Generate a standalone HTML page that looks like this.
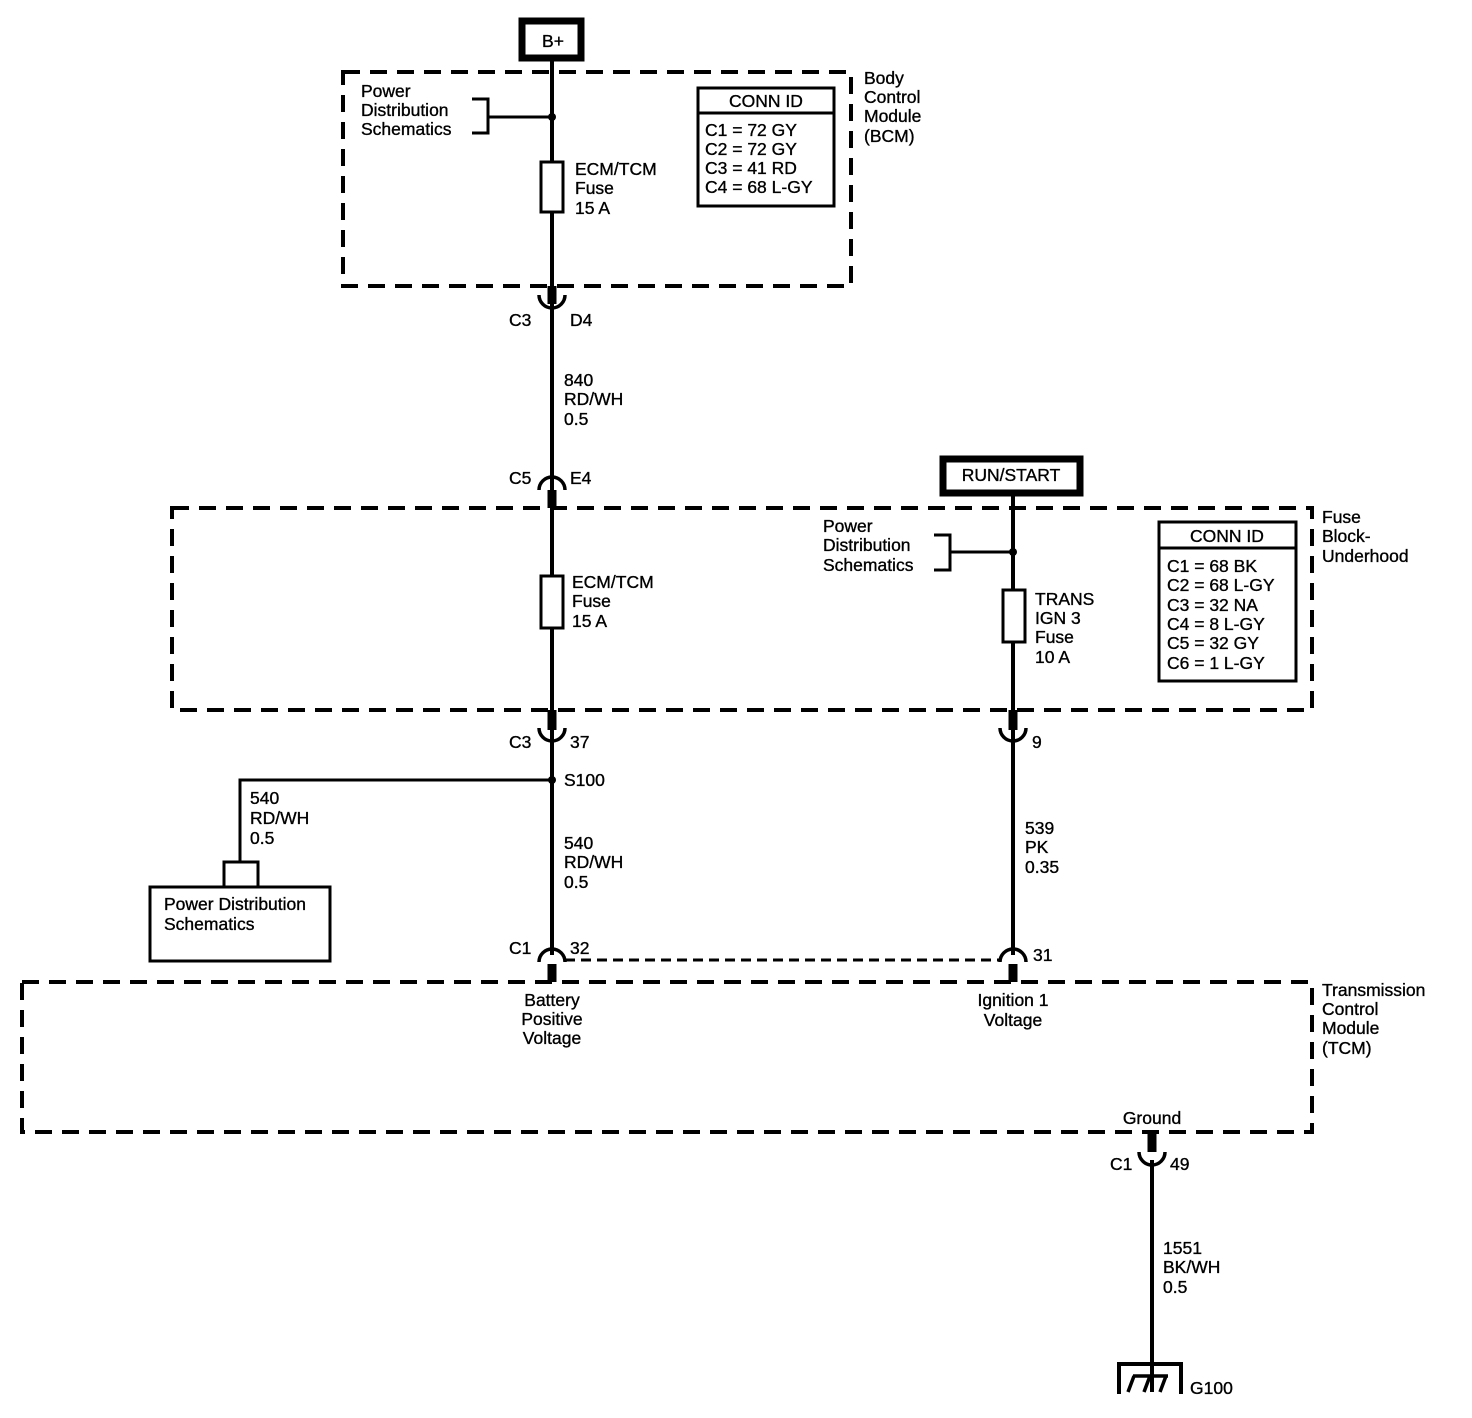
<!DOCTYPE html>
<html><head><style>body{margin:0;background:#fff}svg{display:block}text{font-family:"Liberation Sans",Arial,sans-serif;font-size:17.5px;fill:#000;stroke:#000;stroke-width:0.35}</style></head><body>
<svg width="1472" height="1418" viewBox="0 0 1472 1418" xmlns="http://www.w3.org/2000/svg">
<g fill="none" stroke="#000" stroke-width="4" stroke-dasharray="17,10">
<rect x="343" y="72" width="508" height="214"/>
<rect x="172" y="508" width="1140" height="202"/>
<rect x="22" y="982" width="1290" height="150"/>
</g>
<g fill="none" stroke="#000">
<rect x="522" y="21" width="59" height="37" stroke-width="7"/>
<rect x="943" y="459" width="137" height="34" stroke-width="7"/>
<line x1="552" y1="61" x2="552" y2="955" stroke-width="4"/>
<line x1="1013" y1="496" x2="1013" y2="955" stroke-width="4"/>
<line x1="1152" y1="1160" x2="1152" y2="1392" stroke-width="4"/>
<path d="M472 99H488V133H472M488 117H552" stroke-width="3"/>
<path d="M934 535H950V570H934M950 552H1013" stroke-width="3"/>
<rect x="541" y="162" width="22" height="50" stroke-width="3" fill="#fff"/>
<rect x="541" y="576" width="22" height="52" stroke-width="3" fill="#fff"/>
<rect x="1003" y="590" width="22" height="52" stroke-width="3" fill="#fff"/>
<rect x="698" y="88" width="136" height="118" stroke-width="3"/>
<line x1="698" y1="113" x2="834" y2="113" stroke-width="3"/>
<rect x="1159" y="522" width="137" height="159" stroke-width="3"/>
<line x1="1159" y1="548" x2="1296" y2="548" stroke-width="3"/>
<g stroke-width="9">
<line x1="552" y1="286" x2="552" y2="304"/>
<line x1="552" y1="490" x2="552" y2="508"/>
<line x1="552" y1="710" x2="552" y2="730"/>
<line x1="1013" y1="710" x2="1013" y2="730"/>
<line x1="552" y1="964" x2="552" y2="982"/>
<line x1="1013" y1="964" x2="1013" y2="982"/>
<line x1="1152" y1="1132" x2="1152" y2="1152"/>
</g>
<g stroke-width="3.5">
<path d="M539 295A13 13 0 0 0 565 295"/>
<path d="M539 490A13 13 0 0 1 565 490"/>
<path d="M1000 728A13 13 0 0 0 1026 728"/>
<path d="M539 728A13 13 0 0 0 565 728"/>
<path d="M539 962A13 13 0 0 1 565 962"/>
<path d="M1000 962A13 13 0 0 1 1026 962"/>
<path d="M1139 1152A13 13 0 0 0 1165 1152"/>
</g>
<line x1="565" y1="960" x2="1000" y2="960" stroke-width="3" stroke-dasharray="10,6"/>
<path d="M552 780H240V862M224 887V862H258V887" stroke-width="3"/>
<rect x="150" y="887" width="180" height="74" stroke-width="3"/>
<path d="M1119 1394V1364H1181V1394" stroke-width="4"/>
<path d="M1128 1392L1134 1376M1144 1392L1150 1376M1160 1392L1166 1376M1133 1376H1168" stroke-width="3.5"/>
</g>
<circle cx="552" cy="117" r="4"/><circle cx="1013" cy="552" r="4"/><circle cx="552" cy="780" r="4"/>
<g dominant-baseline="central">
<text x="553" y="41" text-anchor="middle">B+</text>
<text x="1011" y="475" text-anchor="middle">RUN/START</text>
<text x="361" y="91">Power</text><text x="361" y="110">Distribution</text><text x="361" y="129">Schematics</text>
<text x="575" y="169">ECM/TCM</text><text x="575" y="188">Fuse</text><text x="575" y="208">15 A</text>
<text x="766" y="101" text-anchor="middle">CONN ID</text>
<text x="705" y="130">C1 = 72 GY</text><text x="705" y="149">C2 = 72 GY</text><text x="705" y="168">C3 = 41 RD</text><text x="705" y="187">C4 = 68 L-GY</text>
<text x="864" y="78">Body</text><text x="864" y="97">Control</text><text x="864" y="116">Module</text><text x="864" y="136">(BCM)</text>
<text x="509" y="320">C3</text><text x="570" y="320">D4</text>
<text x="564" y="380">840</text><text x="564" y="399">RD/WH</text><text x="564" y="419">0.5</text>
<text x="509" y="478">C5</text><text x="570" y="478">E4</text>
<text x="572" y="582">ECM/TCM</text><text x="572" y="601">Fuse</text><text x="572" y="621">15 A</text>
<text x="823" y="526">Power</text><text x="823" y="545">Distribution</text><text x="823" y="565">Schematics</text>
<text x="1035" y="599">TRANS</text><text x="1035" y="618">IGN 3</text><text x="1035" y="637">Fuse</text><text x="1035" y="657">10 A</text>
<text x="1227" y="536" text-anchor="middle">CONN ID</text>
<text x="1167" y="566">C1 = 68 BK</text><text x="1167" y="585">C2 = 68 L-GY</text><text x="1167" y="605">C3 = 32 NA</text><text x="1167" y="624">C4 = 8 L-GY</text><text x="1167" y="643">C5 = 32 GY</text><text x="1167" y="663">C6 = 1 L-GY</text>
<text x="1322" y="517">Fuse</text><text x="1322" y="536">Block-</text><text x="1322" y="556">Underhood</text>
<text x="509" y="742">C3</text><text x="570" y="742">37</text><text x="1032" y="742">9</text>
<text x="564" y="780">S100</text>
<text x="250" y="798">540</text><text x="250" y="818">RD/WH</text><text x="250" y="838">0.5</text>
<text x="164" y="904">Power Distribution</text><text x="164" y="924">Schematics</text>
<text x="564" y="843">540</text><text x="564" y="862">RD/WH</text><text x="564" y="882">0.5</text>
<text x="1025" y="828">539</text><text x="1025" y="847">PK</text><text x="1025" y="867">0.35</text>
<text x="509" y="948">C1</text><text x="570" y="948">32</text><text x="1033" y="955">31</text>
<text x="552" y="1000" text-anchor="middle">Battery</text><text x="552" y="1019" text-anchor="middle">Positive</text><text x="552" y="1038" text-anchor="middle">Voltage</text>
<text x="1013" y="1000" text-anchor="middle">Ignition 1</text><text x="1013" y="1020" text-anchor="middle">Voltage</text>
<text x="1322" y="990">Transmission</text><text x="1322" y="1009">Control</text><text x="1322" y="1028">Module</text><text x="1322" y="1048">(TCM)</text>
<text x="1152" y="1118" text-anchor="middle">Ground</text>
<text x="1110" y="1164">C1</text><text x="1170" y="1164">49</text>
<text x="1163" y="1248">1551</text><text x="1163" y="1267">BK/WH</text><text x="1163" y="1287">0.5</text>
<text x="1190" y="1388">G100</text>
</g>
</svg>
</body></html>
